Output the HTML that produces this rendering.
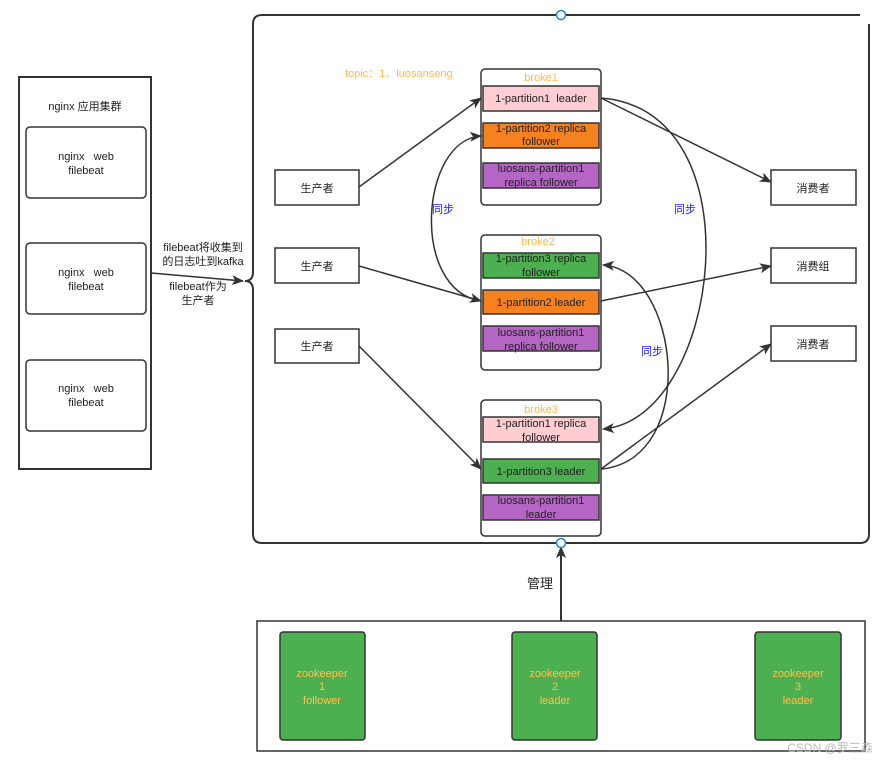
<!DOCTYPE html>
<html><head><meta charset="utf-8"><style>
html,body{margin:0;padding:0;background:#fff;}
svg{display:block;font-family:"Liberation Sans","Noto Sans CJK SC",sans-serif;}
</style></head><body>
<svg width="896" height="765" viewBox="0 0 896 765" xmlns="http://www.w3.org/2000/svg">
<defs>
<marker id="a" markerWidth="12" markerHeight="10" refX="11" refY="5" orient="auto" markerUnits="userSpaceOnUse">
<path d="M0,0 L12,5 L0,10 L3,5 Z" fill="#333"/></marker>
</defs>
<g stroke="#333" stroke-width="2" fill="none">
<path d="M262,15 L860,15"/>
<path d="M262,15 Q253,15 253,24 L253,272 Q253,281 245,281 Q253,281 253,290 L253,534 Q253,543 262,543 L860,543 Q869,543 869,534 L869,24"/>
</g>
<circle cx="561" cy="15" r="4.5" fill="#fff" stroke="#1e88e5" stroke-width="1.5"/>

<rect x="19" y="77" width="132" height="392" fill="#fff" stroke="#333" stroke-width="2"/>
<text x="85" y="110" font-size="11" text-anchor="middle" fill="#222">nginx 应用集群</text>
<g fill="#fff" stroke="#333" stroke-width="1.5">
<rect x="26" y="127" width="120" height="71" rx="4"/>
<rect x="26" y="243" width="120" height="71" rx="4"/>
<rect x="26" y="360" width="120" height="71" rx="4"/>
</g>
<g font-size="11" text-anchor="middle" fill="#222">
<text x="86" y="160">nginx&#160;&#160; web</text><text x="86" y="174">filebeat</text>
<text x="86" y="276">nginx&#160;&#160; web</text><text x="86" y="290">filebeat</text>
<text x="86" y="392">nginx&#160;&#160; web</text><text x="86" y="406">filebeat</text>
<text x="203" y="251">filebeat将收集到</text><text x="203" y="265">的日志吐到kafka</text>
<text x="198" y="290">filebeat作为</text><text x="198" y="304">生产者</text>
</g>
<path d="M151,273 L243,281" stroke="#333" stroke-width="1.5" fill="none" marker-end="url(#a)"/>

<text x="345" y="77" font-size="11" fill="#ffb74d">topic：1、luosanseng</text>

<g fill="#fff" stroke="#333" stroke-width="1.5">
<rect x="275" y="170" width="84" height="35"/><rect x="275" y="248" width="84" height="35"/><rect x="275" y="329" width="84" height="34"/>
<rect x="771" y="170" width="85" height="35"/><rect x="771" y="248" width="85" height="35"/><rect x="771" y="326" width="85" height="35"/>
</g>
<g font-size="11" text-anchor="middle" fill="#222">
<text x="317" y="192">生产者</text><text x="317" y="270">生产者</text><text x="317" y="350">生产者</text>
<text x="813" y="192">消费者</text><text x="813" y="270">消费组</text><text x="813" y="348">消费者</text>
</g>

<g fill="#fff" stroke="#333" stroke-width="1.5">
<rect x="481" y="69" width="120" height="136" rx="4"/>
<rect x="481" y="235" width="120" height="135" rx="4"/>
<rect x="481" y="400" width="120" height="136" rx="4"/>
</g>
<g stroke="#333" stroke-width="1.5">
<rect x="483" y="86" width="116" height="25" fill="#ffcdd2"/>
<rect x="483" y="123" width="116" height="25" fill="#f5821f"/>
<rect x="483" y="163" width="116" height="25" fill="#b565c4"/>
<rect x="483" y="253" width="116" height="25" fill="#4caf50"/>
<rect x="483" y="290" width="116" height="24" fill="#f5821f"/>
<rect x="483" y="326" width="116" height="25" fill="#b565c4"/>
<rect x="483" y="417" width="116" height="25" fill="#ffcdd2"/>
<rect x="483" y="459" width="116" height="24" fill="#4caf50"/>
<rect x="483" y="495" width="116" height="25" fill="#b565c4"/>
</g>
<g font-size="11" text-anchor="middle" fill="#222">
<text x="541" y="81" fill="#ffb74d">broke1</text>
<text x="541" y="102">1-partition1&#160; leader</text>
<text x="541" y="132">1-partition2 replica</text><text x="541" y="145">follower</text>
<text x="541" y="172">luosans-partition1</text><text x="541" y="186">replica follower</text>
<text x="538" y="245" fill="#ffb74d">broke2</text>
<text x="541" y="262">1-partition3 replica</text><text x="541" y="276">follower</text>
<text x="541" y="306">1-partition2 leader</text>
<text x="541" y="336">luosans-partition1</text><text x="541" y="350">replica follower</text>
<text x="541" y="413" fill="#ffb74d">broke3</text>
<text x="541" y="427">1-partition1 replica</text><text x="541" y="441">follower</text>
<text x="541" y="475">1-partition3 leader</text>
<text x="541" y="504">luosans-partition1</text><text x="541" y="518">leader</text>
</g>

<g stroke="#333" stroke-width="1.5" fill="none" marker-end="url(#a)">
<path d="M359,187 L481,98"/>
<path d="M359,266 L481,301"/>
<path d="M359,346 L481,469"/>
<path d="M601,98 L771,182"/>
<path d="M601,301 L771,266"/>
<path d="M601,469 L771,344"/>
<path d="M601,98 C760,110 720,420 603,429"/>
<path d="M481,301 C410,290 420,140 481,136"/>
<path d="M601,469 C700,460 680,270 603,265"/>
</g>
<g font-size="11" fill="#1a1aff">
<text x="432" y="213">同步</text><text x="674" y="213">同步</text><text x="641" y="355">同步</text>
</g>

<path d="M561,621 L561,547" stroke="#333" stroke-width="2" marker-end="url(#a)"/>
<circle cx="561" cy="543" r="4.5" fill="#fff" stroke="#1e88e5" stroke-width="1.5"/>
<text x="540" y="588" font-size="13" text-anchor="middle" fill="#222">管理</text>
<rect x="257" y="621" width="608" height="130" fill="none" stroke="#333" stroke-width="1.5"/>
<g fill="#4caf50" stroke="#333" stroke-width="1.5">
<rect x="280" y="632" width="85" height="108" rx="3"/>
<rect x="512" y="632" width="85" height="108" rx="3"/>
<rect x="755" y="632" width="86" height="108" rx="3"/>
</g>
<g font-size="11" text-anchor="middle" fill="#ffc14d">
<text x="322" y="677">zookeeper</text><text x="322" y="690">1</text><text x="322" y="704">follower</text>
<text x="555" y="677">zookeeper</text><text x="555" y="690">2</text><text x="555" y="704">leader</text>
<text x="798" y="677">zookeeper</text><text x="798" y="690">3</text><text x="798" y="704">leader</text>
</g>
<text x="830" y="752" font-size="12" text-anchor="middle" fill="#bbb">CSDN @罗三森</text>
</svg>
</body></html>
